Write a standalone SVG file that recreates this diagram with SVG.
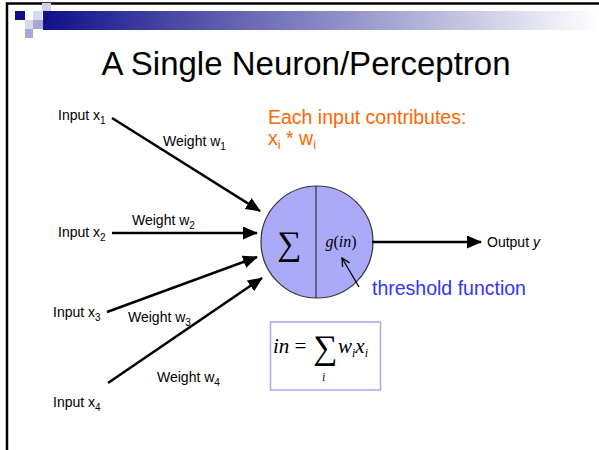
<svg xmlns="http://www.w3.org/2000/svg" width="599" height="450" viewBox="0 0 599 450">
<defs>
<linearGradient id="bar" x1="0" y1="0" x2="1" y2="0">
<stop offset="0" stop-color="#10108a"/>
<stop offset="1" stop-color="#ffffff"/>
</linearGradient>
<marker id="ah" markerUnits="userSpaceOnUse" markerWidth="15" markerHeight="13" refX="14" refY="6.5" orient="auto">
<path d="M0,0 L15,6.5 L0,13 z" fill="#000"/>
</marker>
<marker id="oh" markerUnits="userSpaceOnUse" markerWidth="10" markerHeight="10" refX="9" refY="5" orient="auto">
<path d="M1,1 L9,5 L1,9" fill="none" stroke="#000" stroke-width="1.3"/>
</marker>
<style>
.lbl{font-family:"Liberation Sans",Arial,sans-serif;font-size:14px;fill:#000}
.sub{font-size:10px}
.edge{stroke:#000;stroke-width:2.5;fill:none;marker-end:url(#ah)}
.math{font-family:"Liberation Serif","Times New Roman",serif;font-style:italic;fill:#000}
</style>
</defs>
<rect width="599" height="450" fill="#fff"/>
<g id="frame">
<path d="M7,450 V3.5 H599" fill="none" stroke="#000" stroke-width="2.5"/>
<rect x="43" y="11" width="556" height="19" fill="url(#bar)"/>
<rect x="42" y="3" width="9" height="8" fill="#d0d0e6"/>
<rect x="15" y="11" width="10" height="9" fill="#10108a"/>
<rect x="33" y="11" width="9" height="9" fill="#d8d8ee"/>
<rect x="25" y="20" width="8" height="9" fill="#d8d8ee"/>
<rect x="33" y="20" width="10" height="9" fill="#a8a8d8"/>
<rect x="25" y="29" width="8" height="9" fill="#a8a8d8"/>
</g>
<text id="title" x="306" y="75" text-anchor="middle" font-family="Liberation Sans,Arial,sans-serif" font-size="33" fill="#000">A Single Neuron/Perceptron</text>
<g id="input1"><text class="lbl" x="58" y="120">Input x<tspan class="sub" dy="4">1</tspan></text></g>
<g id="input2"><text class="lbl" x="58" y="237">Input x<tspan class="sub" dy="4">2</tspan></text></g>
<g id="input3"><text class="lbl" x="53" y="317">Input x<tspan class="sub" dy="4">3</tspan></text></g>
<g id="input4"><text class="lbl" x="53" y="407">Input x<tspan class="sub" dy="4">4</tspan></text></g>
<g id="weights">
<text class="lbl" x="163" y="146">Weight w<tspan class="sub" dy="4">1</tspan></text>
<text class="lbl" x="132" y="225">Weight w<tspan class="sub" dy="4">2</tspan></text>
<text class="lbl" x="128" y="322">Weight w<tspan class="sub" dy="4">3</tspan></text>
<text class="lbl" x="157" y="382">Weight w<tspan class="sub" dy="4">4</tspan></text>
</g>
<g id="neuron">
<circle cx="317" cy="242" r="56" fill="#aaaaf8" stroke="#333" stroke-width="1.2"/>
<line x1="316" y1="186" x2="316" y2="298" stroke="#333" stroke-width="1.2"/>
<text x="289" y="255" text-anchor="middle" font-family="Liberation Serif,DejaVu Serif,serif" font-size="34" fill="#000">∑</text>
<text class="math" x="341" y="247" text-anchor="middle" font-size="16"><tspan font-style="italic">g</tspan><tspan font-style="normal">(</tspan>in<tspan font-style="normal">)</tspan></text>
</g>
<g id="connectors">
<line class="edge" x1="112" y1="118" x2="260" y2="211"/>
<line class="edge" x1="112" y1="233" x2="257" y2="233"/>
<line class="edge" x1="107" y1="312" x2="257" y2="257"/>
<line class="edge" x1="108" y1="383" x2="262" y2="278"/>
<line class="edge" x1="372" y1="242" x2="481" y2="242"/>
<line x1="359" y1="287" x2="342" y2="258" stroke="#000" stroke-width="1.3" marker-end="url(#oh)"/>
</g>
<g id="output"><text class="lbl" x="487" y="247">Output <tspan font-style="italic">y</tspan></text></g>
<g id="threshold"><text x="372" y="295" font-family="Liberation Sans,Arial,sans-serif" font-size="19.5" fill="#3333ff">threshold function</text></g>
<g id="note" font-family="Liberation Sans,Arial,sans-serif" font-size="19.5" fill="#ff6600">
<text x="268" y="124">Each input contributes:</text>
<text x="268" y="145">x<tspan font-size="13" dy="4">i</tspan><tspan dy="-4"> * w</tspan><tspan font-size="13" dy="4">i</tspan></text>
</g>
<g id="formula">
<rect x="270.5" y="322" width="110" height="68" fill="#fff" stroke="#a8a8f0" stroke-width="1.5"/>
<text class="math" x="273" y="353" font-size="21">in <tspan font-style="normal">=</tspan></text>
<text x="325" y="359" text-anchor="middle" font-family="Liberation Serif,DejaVu Serif,serif" font-size="34" fill="#000">∑</text>
<text class="math" x="322" y="381" font-size="12">i</text>
<text class="math" x="338" y="353" font-size="21">w<tspan font-size="12" dy="4">i</tspan><tspan dy="-4">x</tspan><tspan font-size="12" dy="4">i</tspan></text>
</g>
</svg>
